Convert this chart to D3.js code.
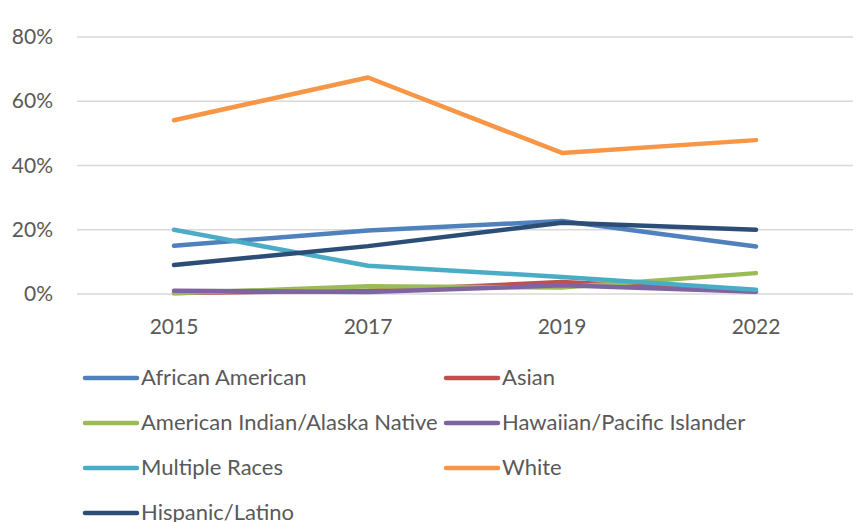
<!DOCTYPE html>
<html><head><meta charset="utf-8">
<script src="https://cdn.jsdelivr.net/npm/d3@7/dist/d3.min.js"></script>
<style>body{margin:0;background:#fff}svg{display:block}</style>
</head><body><svg id="c" width="861" height="522"></svg>
<script>
const years = ["2015","2017","2019","2022"];
const yTicks = [0,20,40,60,80];
const seriesNames = ["African American","Asian","American Indian/Alaska Native","Hawaiian/Pacific Islander","Multiple Races","White","Hispanic/Latino"];
const seriesColors = ["#4F81BD","#C0504D","#9BBB59","#8064A2","#4BACC6","#F79646","#2C4D75"];
const africanAmerican = [15.0,19.8,22.7,14.8];
const asian = [0.3,1.0,3.7,0.8];
const americanIndian = [0.2,2.4,2.0,6.5];
const hawaiian = [1.0,0.6,2.7,0.7];
const multipleRaces = [20.0,8.8,5.3,1.3];
const white = [54.1,67.4,43.9,47.9];
const hispanic = [9.0,14.9,22.2,20.0];
const seriesValues = [africanAmerican,asian,americanIndian,hawaiian,multipleRaces,white,hispanic];

const svg = d3.select("#c");
const font = "Lato, 'Liberation Sans', sans-serif";
const x = d3.scaleBand().domain(years).range([77,853]);
const y = d3.scaleLinear().domain([0,80]).range([294,37]);

svg.append("g").selectAll("line").data(yTicks).join("line")
  .attr("x1",77).attr("x2",853).attr("y1",d=>y(d)).attr("y2",d=>y(d))
  .attr("stroke","#d9d9d9").attr("stroke-width",1.5);
svg.append("g").selectAll("text").data(yTicks).join("text")
  .attr("x",53).attr("y",d=>y(d)+7).attr("text-anchor","end")
  .attr("font-family",font).attr("font-size",21).attr("fill","#595959").text(d=>d+"%");
svg.append("g").selectAll("text").data(years).join("text")
  .attr("x",d=>x(d)+x.bandwidth()/2).attr("y",334).attr("text-anchor","middle")
  .attr("font-family",font).attr("font-size",21).attr("fill","#595959").text(d=>d);

const line = d3.line().x((d,i)=>x(years[i])+x.bandwidth()/2).y(d=>y(d));
svg.append("g").selectAll("path").data(seriesValues).join("path")
  .attr("d",d=>line(d)).attr("fill","none")
  .attr("stroke",(d,i)=>seriesColors[i]).attr("stroke-width",4.5)
  .attr("stroke-linecap","round").attr("stroke-linejoin","round");

const leg = svg.append("g").selectAll("g").data(seriesNames).join("g")
  .attr("transform",(d,i)=>`translate(${i%2===0?83:444},${378+Math.floor(i/2)*45})`);
leg.append("line").attr("x1",2).attr("x2",54).attr("y1",0).attr("y2",0)
  .attr("stroke",(d,i)=>seriesColors[i]).attr("stroke-width",4.5).attr("stroke-linecap","round");
leg.append("text").attr("x",58).attr("y",7).attr("font-family",font).attr("font-size",22)
  .attr("fill","#595959").text(d=>d);
</script></body></html>
